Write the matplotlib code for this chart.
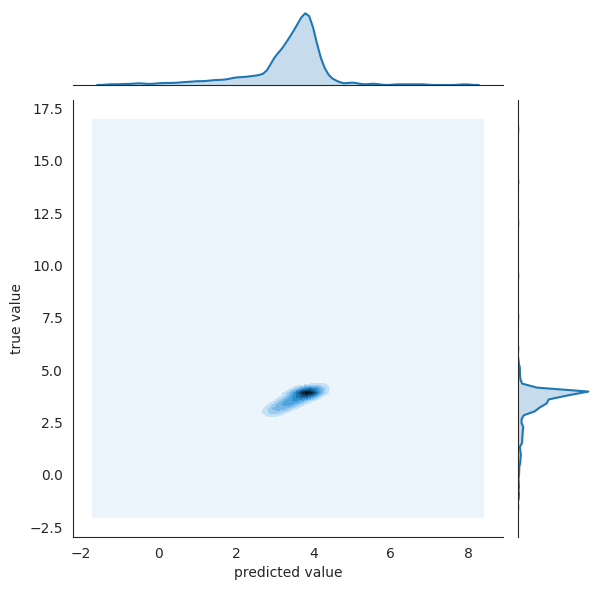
import colorsys
import numpy as np
import matplotlib
matplotlib.use("Agg")
import matplotlib.pyplot as plt
import seaborn as sns
from matplotlib.colors import LinearSegmentedColormap, to_rgb

# (predicted, true) pairs with how many samples sit at each one,
# estimated from the density shapes in the reference
pred = [
    # main cluster
    2.85, 3.00, 3.00, 3.00, 3.15, 3.15, 3.30, 3.30, 3.30, 3.45, 3.45, 3.45,
    3.60, 3.60, 3.60, 3.75, 3.75, 3.75, 3.90, 3.90, 3.90, 4.05, 4.05, 4.05,
    4.20, 4.20, 4.35, 4.35,
    # low tail
    2.65, 2.65, 2.45, 2.45, 2.25, 2.25, 2.05, 2.05, 1.85, 1.85, 1.65, 1.65,
    1.45, 1.45, 1.25, 1.05, 0.85, 0.65, 0.45, 0.25, 0.05, -0.15, -0.35,
    -0.55, -0.75, -0.95, -1.22, 1.00, 2.00, -0.50,
    # high side / outliers
    4.60, 4.30, 4.50, 4.20, 4.80, 5.00, 5.50, 6.50, 5.20, 5.60, 6.20,
    6.80, 7.91, 5.00]
true = [
    3.05, 2.85, 3.05, 3.25, 3.12, 3.40, 3.25, 3.50, 3.80, 3.40, 3.62, 3.90,
    3.52, 3.75, 3.93, 3.65, 3.85, 3.95, 3.78, 3.93, 4.05, 3.88, 3.98, 4.15,
    4.00, 4.20, 4.15, 4.35,
    2.75, 2.30, 2.55, 2.05, 2.35, 1.85, 2.15, 1.65, 1.95, 1.50, 1.75, 1.35,
    1.55, 1.20, 1.05, 0.90, 0.75, 0.60, 0.45, 0.25, 0.05, -0.15, -0.35,
    -0.55, -0.75, -0.95, -1.10, -0.50, -1.00, -1.57,
    4.45, 4.70, 4.95, 5.15, 5.30, 4.50, 4.80, 5.50, 6.00, 7.50, 9.50,
    12.00, 14.00, 16.50]
count = [
    12, 5, 8, 10, 12, 12, 14, 14, 4, 15, 15, 8,
    14, 16, 15, 12, 18, 25, 10, 35, 12, 8, 20, 8,
    6, 6, 4, 2,
    5, 5, 5, 4, 4, 4, 4, 3, 3, 3, 3, 2,
    3, 2, 4, 3, 3, 3, 2, 2, 2, 1, 1,
    1, 1, 1, 1, 1, 1, 1,
    3, 3, 3, 3, 1, 2, 1, 1, 1, 1, 1,
    1, 1, 1]

xlabel = "predicted value"
ylabel = "true value"

# kde settings (100 point grids, cut=3)
bw_joint = (0.16, 0.15)
bw_marg = (0.12, 0.10)
gridsize = 100
cut = 3

px = np.array(pred)
py = np.array(true)
w = np.array(count, dtype=float)


def support(v, bw):
    return np.linspace(v.min() - cut * bw, v.max() + cut * bw, gridsize)


def kde1d(v, bw, grid):
    k = np.exp(-0.5 * ((grid[None, :] - v[:, None]) / bw) ** 2)
    return (w[:, None] * k).sum(0) / (w.sum() * bw * np.sqrt(2 * np.pi))


def kde2d(xv, yv, bx, by, gx, gy):
    kx = np.exp(-0.5 * ((gx[None, :] - xv[:, None]) / bx) ** 2)
    ky = np.exp(-0.5 * ((gy[None, :] - yv[:, None]) / by) ** 2)
    z = np.einsum("n,ni,nj->ji", w, kx, ky)
    return z / (w.sum() * bx * by * 2 * np.pi)


sns.set_style("white")

# colormap: hue of C0, lightness from 1 to 0
h, l, s = colorsys.rgb_to_hls(*to_rgb("C0"))
cmap = LinearSegmentedColormap.from_list(
    "c0_dark", [colorsys.hls_to_rgb(h, li, s) for li in np.linspace(1, 0, 12)])

W, H = 601, 590
fig = plt.figure(figsize=(W / 100, H / 100), dpi=100)
ax = fig.add_axes([73 / W, 1 - 537 / H, 430 / W, 437 / H])
ax_mx = fig.add_axes([73 / W, 1 - 85 / H, 430 / W, 75.3 / H], sharex=ax)
ax_my = fig.add_axes([517.8 / W, 1 - 537 / H, 74.1 / W, 437 / H], sharey=ax)

# joint density
gx = support(px, bw_joint[0])
gy = support(py, bw_joint[1])
zz = kde2d(px, py, bw_joint[0], bw_joint[1], gx, gy)
xx, yy = np.meshgrid(gx, gy)
ax.contourf(xx, yy, zz, 10, cmap=cmap)

# marginal densities
mx = support(px, bw_marg[0])
dx = kde1d(px, bw_marg[0], mx)
ax_mx.plot(mx, dx, color="C0", lw=1.5)
ax_mx.fill_between(mx, 0, dx, color="C0", alpha=0.25, lw=0)

my = support(py, bw_marg[1])
dy = kde1d(py, bw_marg[1], my)
ax_my.plot(dy, my, color="C0", lw=1.5)
ax_my.fill_betweenx(my, 0, dy, color="C0", alpha=0.25, lw=0)

# 5% padding around the joint grid, as autoscaling would give
pad_x = 0.05 * (gx[-1] - gx[0])
pad_y = 0.05 * (gy[-1] - gy[0])
ax.set_xlim(gx[0] - pad_x, gx[-1] + pad_x)
ax.set_ylim(gy[0] - pad_y, gy[-1] + pad_y)
ax_mx.set_ylim(0, dx.max() * 1.05)
ax_my.set_xlim(0, dy.max() * 1.05)

ax.set_xlabel(xlabel)
ax.set_ylabel(ylabel)

sns.despine(ax=ax)
sns.despine(ax=ax_mx, left=True)
sns.despine(ax=ax_my, bottom=True)
for a in (ax_mx, ax_my):
    a.tick_params(labelbottom=False, labelleft=False, bottom=False, left=False)
ax_mx.yaxis.set_major_locator(plt.NullLocator())
ax_my.xaxis.set_major_locator(plt.NullLocator())

fig.savefig("out.png", dpi=100)
